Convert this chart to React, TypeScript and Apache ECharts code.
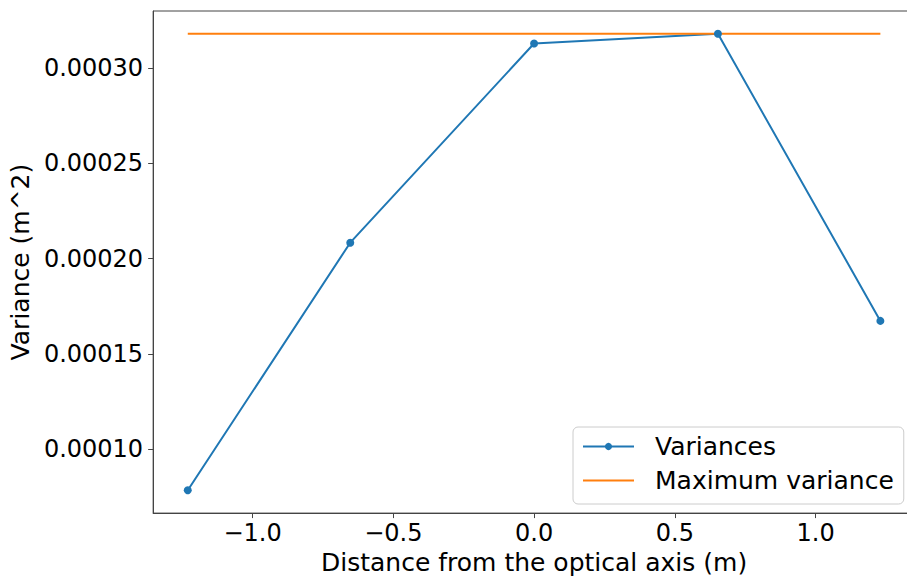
import React, { useEffect, useRef } from "react";
import * as echarts from "echarts";

const distances = [-1.23, -0.653, 0, 0.653, 1.23];
const variances = [0.0000785, 0.0002083, 0.0003127, 0.0003178, 0.0001673];
const xTicks = [-1.0, -0.5, 0.0, 0.5, 1.0];
const yTicks = [0.0001, 0.00015, 0.0002, 0.00025, 0.0003];
const seriesNames = ["Variances", "Maximum variance"];

const FONT = "DejaVu Sans";

export default function App() {
  const ref = useRef<HTMLDivElement>(null);
  useEffect(() => {
    if (!ref.current) return;
    const chart = echarts.init(ref.current, null, { renderer: "svg" });
    const maxVar = Math.max(...variances);
    const xMinD = Math.min(...distances);
    const xMaxD = Math.max(...distances);
    const yMinD = Math.min(...variances);
    const yMaxD = Math.max(...variances);
    const xm = (xMaxD - xMinD) * 0.05;
    const ym = (yMaxD - yMinD) * 0.05;
    const spine = { show: true, onZero: false, lineStyle: { color: "#444", width: 1 } };
    chart.setOption({
      animation: false,
      backgroundColor: "#fff",
      grid: { left: 152, top: 11, width: 763, height: 506, show: true, borderColor: "#444", borderWidth: 1, backgroundColor: "transparent" },
      xAxis: {
        type: "value",
        min: xMinD - xm,
        max: xMaxD + xm,
        name: "Distance from the optical axis (m)",
        nameLocation: "middle",
        nameGap: 34,
        nameTextStyle: { fontFamily: FONT, fontSize: 25, color: "#000" },
        axisLine: spine,
        axisTick: { show: true, customValues: xTicks, length: 5, lineStyle: { color: "#444" } },
        axisLabel: {
          customValues: xTicks,
          fontFamily: FONT,
          fontSize: 24,
          color: "#000",
          margin: 8,
          formatter: (v: number) => v.toFixed(1).replace("-", "\u2212"),
        },
        splitLine: { show: false },
      },
      yAxis: {
        type: "value",
        min: yMinD - ym,
        max: yMaxD + ym,
        name: "Variance (m^2)",
        nameLocation: "middle",
        nameGap: 117,
        nameTextStyle: { fontFamily: FONT, fontSize: 25, color: "#000" },
        axisLine: spine,
        axisTick: { show: true, customValues: yTicks, length: 5, lineStyle: { color: "#444" } },
        axisLabel: {
          customValues: yTicks,
          fontFamily: FONT,
          fontSize: 24,
          color: "#000",
          margin: 10,
          formatter: (v: number) => v.toFixed(5),
        },
        splitLine: { show: false },
      },
      legend: {
        orient: "vertical",
        left: 573,
        top: 427,
        padding: [7, 10, 11, 9],
        itemGap: 9,
        itemWidth: 51,
        itemHeight: 9,
        backgroundColor: "rgba(255,255,255,0.8)",
        borderColor: "#ccc",
        borderWidth: 1,
        borderRadius: 5,
        textStyle: { fontFamily: FONT, fontSize: 25, color: "#000", padding: [0, 0, 0, 16] },
        data: [
          { name: seriesNames[0] },
          { name: seriesNames[1], itemStyle: { opacity: 0 } },
        ],
      },
      series: [
        {
          name: seriesNames[0],
          type: "line",
          data: distances.map((d, i) => [d, variances[i]]),
          symbol: "circle",
          symbolSize: 8,
          lineStyle: { color: "#1f77b4", width: 2 },
          itemStyle: { color: "#1f77b4" },
        },
        {
          name: seriesNames[1],
          type: "line",
          data: [[xMinD, maxVar], [xMaxD, maxVar]],
          symbol: "none",
          lineStyle: { color: "#ff7f0e", width: 2 },
          itemStyle: { color: "#ff7f0e" },
        },
      ],
    });
    return () => chart.dispose();
  }, []);
  return (
    <div style={{ position: "absolute", left: 0, top: 0, width: 907, height: 580, overflow: "hidden", background: "#fff" }}>
      <div ref={ref} style={{ width: 930, height: 580 }} />
    </div>
  );
}
